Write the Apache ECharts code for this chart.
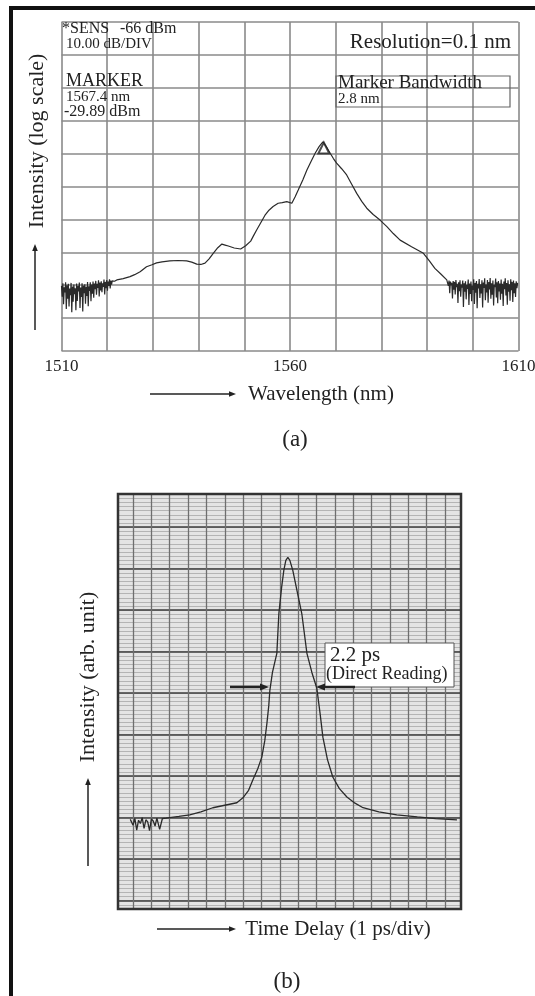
<!DOCTYPE html>
<html>
<head>
<meta charset="utf-8">
<script src="https://cdn.jsdelivr.net/npm/echarts@6/dist/echarts.min.js"></script>
<style>
  html, body { margin: 0; padding: 0; background: #fff; }
  #chart { width: 535px; height: 996px; }
</style>
</head>
<body>
<div id="chart"></div>
<script>
// ---- panel (a): optical spectrum, wavelength (nm) vs level (dB, 10 dB/div, 0 = top line)
var aTickLabels = [1510, 1560, 1610];
var aNoiseL = [[1510.00,-80.2],[1510.15,-83.5],[1510.30,-79.4],[1510.45,-85.8],[1510.60,-80.6],[1510.75,-82.2],[1510.90,-79.1],[1511.05,-87.2],[1511.20,-80.0],[1511.35,-84.1],[1511.50,-79.6],[1511.65,-86.5],[1511.80,-81.0],[1511.95,-83.0],[1512.10,-79.3],[1512.25,-88.2],[1512.40,-80.4],[1512.55,-85.0],[1512.70,-79.8],[1512.85,-82.7],[1513.00,-80.9],[1513.15,-87.6],[1513.30,-79.5],[1513.45,-84.8],[1513.60,-80.2],[1513.75,-81.9],[1513.90,-79.2],[1514.05,-86.9],[1514.20,-80.7],[1514.35,-83.6],[1514.50,-79.4],[1514.65,-88.0],[1514.80,-80.1],[1514.95,-82.4],[1515.10,-79.7],[1515.25,-85.6],[1515.40,-80.5],[1515.55,-83.3],[1515.70,-79.0],[1515.85,-86.4],[1516.00,-80.3],[1516.15,-81.7],[1516.30,-79.1],[1516.45,-84.9],[1516.60,-79.8],[1516.75,-82.6],[1516.90,-78.9],[1517.05,-83.8],[1517.20,-79.5],[1517.35,-81.2],[1517.50,-78.7],[1517.65,-82.9],[1517.80,-79.6],[1517.95,-80.8],[1518.10,-78.5],[1518.25,-83.4],[1518.40,-79.2],[1518.55,-81.6],[1518.70,-78.8],[1518.85,-82.1],[1519.00,-79.4],[1519.15,-80.5],[1519.30,-78.3],[1519.45,-82.8],[1519.60,-79.0],[1519.75,-80.9],[1519.90,-78.4],[1520.05,-81.7],[1520.20,-78.9],[1520.35,-80.2],[1520.50,-78.2],[1520.65,-81.0],[1520.80,-78.6],[1520.95,-79.8],[1521.10,-78.7]];
var aMain = [[1521.6,-78.8],[1522.1,-78.4],[1523.5,-78.0],[1525.0,-77.4],[1526.0,-76.8],[1527.2,-75.9],[1528.6,-74.4],[1529.8,-73.8],[1530.8,-73.2],[1532.0,-72.9],[1533.7,-72.6],[1535.5,-72.5],[1537.4,-72.6],[1538.5,-73.0],[1539.6,-73.6],[1540.5,-73.7],[1541.4,-73.3],[1542.3,-72.0],[1543.2,-70.3],[1544.2,-68.6],[1545.1,-67.5],[1545.8,-67.8],[1546.5,-68.1],[1547.8,-68.7],[1549.2,-69.0],[1550.3,-68.0],[1551.4,-66.6],[1552.0,-65.0],[1552.7,-63.2],[1553.6,-61.0],[1554.5,-58.8],[1555.4,-57.2],[1556.3,-56.1],[1557.4,-55.1],[1558.3,-54.9],[1559.3,-54.6],[1560.4,-55.1],[1561.1,-53.2],[1561.8,-51.1],[1562.8,-48.0],[1563.7,-45.0],[1564.6,-42.4],[1565.5,-39.9],[1566.4,-37.8],[1567.2,-36.4],[1568.0,-38.0],[1568.8,-39.9],[1569.5,-41.5],[1570.2,-42.9],[1571.3,-44.6],[1572.4,-46.5],[1573.5,-49.3],[1574.6,-52.1],[1575.7,-54.5],[1576.8,-56.6],[1578.2,-58.5],[1579.7,-60.2],[1581.2,-62.2],[1582.6,-64.3],[1584.1,-66.3],[1586.6,-68.3],[1589.2,-70.3],[1590.5,-72.6],[1591.7,-74.9],[1593.0,-76.6],[1594.3,-78.4]];
var aNoiseR = [[1594.50,-78.0],[1594.65,-80.2],[1594.80,-78.6],[1594.95,-82.4],[1595.10,-78.9],[1595.25,-80.0],[1595.40,-79.3],[1595.55,-84.0],[1595.70,-78.7],[1595.85,-81.4],[1596.00,-79.0],[1596.15,-82.8],[1596.30,-78.4],[1596.45,-80.6],[1596.60,-79.6],[1596.75,-85.4],[1596.90,-79.1],[1597.05,-81.8],[1597.20,-78.5],[1597.35,-83.5],[1597.50,-79.8],[1597.65,-80.7],[1597.80,-78.6],[1597.95,-86.6],[1598.10,-79.4],[1598.25,-82.0],[1598.40,-78.8],[1598.55,-84.3],[1598.70,-79.9],[1598.85,-81.1],[1599.00,-78.3],[1599.15,-86.0],[1599.30,-79.5],[1599.45,-82.7],[1599.60,-78.9],[1599.75,-84.9],[1599.90,-80.1],[1600.05,-81.4],[1600.20,-78.2],[1600.35,-85.7],[1600.50,-79.3],[1600.65,-82.3],[1600.80,-78.7],[1600.95,-87.0],[1601.10,-79.6],[1601.25,-81.0],[1601.40,-78.1],[1601.55,-83.9],[1601.70,-79.7],[1601.85,-82.5],[1602.00,-78.5],[1602.15,-86.8],[1602.30,-79.2],[1602.45,-80.8],[1602.60,-77.9],[1602.75,-84.6],[1602.90,-79.8],[1603.05,-82.2],[1603.20,-78.4],[1603.35,-85.3],[1603.50,-79.0],[1603.65,-81.3],[1603.80,-77.8],[1603.95,-84.1],[1604.10,-79.4],[1604.25,-82.9],[1604.40,-78.6],[1604.55,-86.2],[1604.70,-79.9],[1604.85,-80.6],[1605.00,-78.0],[1605.15,-83.7],[1605.30,-79.1],[1605.45,-85.5],[1605.60,-78.7],[1605.75,-81.9],[1605.90,-79.5],[1606.05,-84.4],[1606.20,-78.3],[1606.35,-82.6],[1606.50,-79.6],[1606.65,-86.3],[1606.80,-78.9],[1606.95,-81.2],[1607.10,-77.9],[1607.25,-83.1],[1607.40,-79.3],[1607.55,-85.9],[1607.70,-78.5],[1607.85,-82.0],[1608.00,-79.7],[1608.15,-84.7],[1608.30,-78.2],[1608.45,-81.5],[1608.60,-79.0],[1608.75,-85.1],[1608.90,-78.6],[1609.05,-82.4],[1609.20,-79.4],[1609.35,-83.6],[1609.50,-78.8],[1609.65,-80.9],[1609.80,-79.3]];
var aMarker = [[1567.4, -38.3]];

// ---- panel (b): autocorrelation trace, x in chart divisions, y in minor chart divisions
var bNoise = [[-0.15,19.6],[0.0,18.2],[0.1,19.8],[0.2,17.0],[0.3,19.4],[0.4,18.6],[0.5,20.0],[0.6,17.4],[0.7,19.5],[0.8,19.0],[0.9,16.9],[1.0,19.7],[1.1,19.2],[1.2,18.0],[1.3,19.9],[1.45,17.2],[1.6,19.8]];
var bPulse = [[1.8,19.9],[2.5,20.3],[3.09,20.7],[3.7,21.4],[4.35,22.4],[5.0,23.0],[5.66,23.6],[5.99,24.8],[6.3,26.6],[6.53,29.1],[6.8,31.8],[7.02,34.6],[7.18,38.5],[7.30,42.8],[7.40,47.0],[7.46,50.7],[7.6,55.0],[7.84,59.6],[7.95,69.2],[8.1,75.5],[8.22,79.6],[8.33,82.0],[8.44,82.7],[8.55,82.0],[8.71,79.6],[8.95,74.5],[9.20,69.2],[9.48,59.6],[9.75,55.0],[10.02,51.2],[10.2,45.0],[10.35,39.4],[10.6,34.0],[10.89,29.8],[11.25,27.0],[11.66,25.0],[12.1,23.5],[12.54,22.4],[13.4,21.4],[14.38,20.7],[15.5,20.2],[16.5,19.8],[17.66,19.5]];

var SERIF = '"Liberation Serif", "DejaVu Serif", serif';
var chart = echarts.init(document.getElementById('chart'));

function txt(x, y, s, size, align, rot) {
  return {
    type: 'text', x: x, y: y, rotation: rot || 0, z: 20,
    style: { text: s, font: size + 'px ' + SERIF, fill: '#222', align: align || 'left', verticalAlign: 'middle' }
  };
}
function arrow(x1, y1, x2, y2, w, head) {
  var dx = x2 - x1, dy = y2 - y1, L = Math.sqrt(dx * dx + dy * dy);
  var ux = dx / L, uy = dy / L, h = head || 7;
  return [
    { type: 'line', z: 20, shape: { x1: x1, y1: y1, x2: x2 - ux * h * 0.6, y2: y2 - uy * h * 0.6 }, style: { stroke: '#222', lineWidth: w } },
    { type: 'polygon', z: 20, shape: { points: [[x2, y2], [x2 - ux * h - uy * h * 0.4, y2 - uy * h + ux * h * 0.4], [x2 - ux * h + uy * h * 0.4, y2 - uy * h - ux * h * 0.4]] }, style: { fill: '#222' } }
  ];
}

var graphics = [
  // frame
  { type: 'rect', shape: { x: 9, y: 6, width: 526, height: 4 }, style: { fill: '#111' } },
  { type: 'rect', shape: { x: 9, y: 6, width: 4, height: 990 }, style: { fill: '#111' } },
  // panel a annotations
  txt(62, 29, '*SENS', 16),
  txt(120, 29, '-66 dBm', 16),
  txt(66, 44, '10.00 dB/DIV', 15),
  txt(66, 81, 'MARKER', 18),
  txt(66, 97, '1567.4 nm', 15),
  txt(64, 112, '-29.89 dBm', 16),
  txt(511, 42, 'Resolution=0.1 nm', 21, 'right'),
  { type: 'rect', z: 19, shape: { x: 336, y: 76, width: 174, height: 31 }, style: { fill: 'none', stroke: '#666', lineWidth: 1.2 } },
  txt(338, 83, 'Marker Bandwidth', 19),
  txt(338, 99, '2.8 nm', 15),
  txt(37, 141, 'Intensity (log scale)', 22, 'center', Math.PI / 2),
  txt(321, 394, 'Wavelength (nm)', 21, 'center'),
  txt(295, 440, '(a)', 23, 'center'),
  // panel b
  { type: 'rect', z: 0, shape: { x: 118, y: 494, width: 343, height: 415 }, style: { fill: '#e4e4e4' } },
  { type: 'rect', z: 18, shape: { x: 118, y: 494, width: 343, height: 415 }, style: { fill: 'none', stroke: '#333', lineWidth: 2.5 } },
  { type: 'rect', z: 19, shape: { x: 325, y: 643, width: 129, height: 44 }, style: { fill: '#fff', stroke: '#555', lineWidth: 1 } },
  txt(330, 655, '2.2 ps', 21),
  txt(326, 674, '(Direct Reading)', 18),
  txt(88, 677, 'Intensity (arb. unit)', 22, 'center', Math.PI / 2),
  txt(338, 929, 'Time Delay (1 ps/div)', 21, 'center'),
  txt(287, 982, '(b)', 23, 'center')
];
graphics = graphics
  .concat(arrow(35, 330, 35, 244, 1.5))
  .concat(arrow(150, 394, 236, 394, 1.5))
  .concat(arrow(88, 866, 88, 778, 1.5))
  .concat(arrow(157, 929, 236, 929, 1.5))
  .concat(arrow(230, 687, 269, 687, 2.5, 9))
  .concat(arrow(355, 687, 316, 687, 2.5, 9));

var option = {
  animation: false,
  backgroundColor: '#fff',
  grid: [
    { left: 61.5, top: 22, width: 457, height: 329, outerBoundsMode: 'none' },
    { left: 118, top: 494, width: 343, height: 415, outerBoundsMode: 'none' }
  ],
  xAxis: [
    {
      gridIndex: 0, type: 'value', min: 1510, max: 1610, interval: 10,
      axisLine: { show: false }, axisTick: { show: false },
      axisLabel: {
        margin: 7, color: '#222', fontFamily: SERIF, fontSize: 17,
        formatter: function (v) { return aTickLabels.indexOf(v) >= 0 ? String(v) : ''; }
      },
      splitLine: { show: true, lineStyle: { color: '#8a8a8a', width: 1.6 } }
    },
    {
      gridIndex: 1, type: 'value', min: -0.82, max: 17.88, splitNumber: 18,
      axisLine: { show: false }, axisTick: { show: false }, axisLabel: { show: false },
      splitLine: { show: true, showMinLine: false, showMaxLine: false, lineStyle: { color: '#6e6e6e', width: 1.3 } }
    }
  ],
  yAxis: [
    {
      gridIndex: 0, type: 'value', min: -100, max: 0, interval: 10,
      axisLine: { show: false }, axisTick: { show: false }, axisLabel: { show: false },
      splitLine: { show: true, lineStyle: { color: '#8a8a8a', width: 1.6 } }
    },
    {
      // minor chart-paper rulings
      gridIndex: 1, type: 'value', min: -2, max: 98, interval: 1,
      axisLine: { show: false }, axisTick: { show: false }, axisLabel: { show: false },
      splitLine: { show: true, showMinLine: false, showMaxLine: false, lineStyle: { color: '#b4b4b4', width: 1 } }
    },
    {
      // major chart-paper rulings
      gridIndex: 1, type: 'value', min: -2, max: 98, splitNumber: 10,
      axisLine: { show: false }, axisTick: { show: false }, axisLabel: { show: false },
      splitLine: { show: true, showMinLine: false, showMaxLine: false, lineStyle: { color: '#3c3c3c', width: 1.6 } }
    }
  ],
  series: [
    {
      type: 'line', xAxisIndex: 0, yAxisIndex: 0, showSymbol: false, z: 5,
      lineStyle: { color: '#2a2a2a', width: 1.2 },
      data: aNoiseL.concat(aMain, aNoiseR)
    },
    {
      type: 'scatter', xAxisIndex: 0, yAxisIndex: 0, symbol: 'triangle', symbolSize: 11, z: 6,
      itemStyle: { color: 'rgba(0,0,0,0)', borderColor: '#222', borderWidth: 2 },
      data: aMarker
    },
    {
      type: 'line', xAxisIndex: 1, yAxisIndex: 1, showSymbol: false, z: 5,
      lineStyle: { color: '#2a2a2a', width: 1.3 },
      data: bNoise.concat(bPulse)
    }
  ],
  graphic: graphics
};
chart.setOption(option);
</script>
</body>
</html>
